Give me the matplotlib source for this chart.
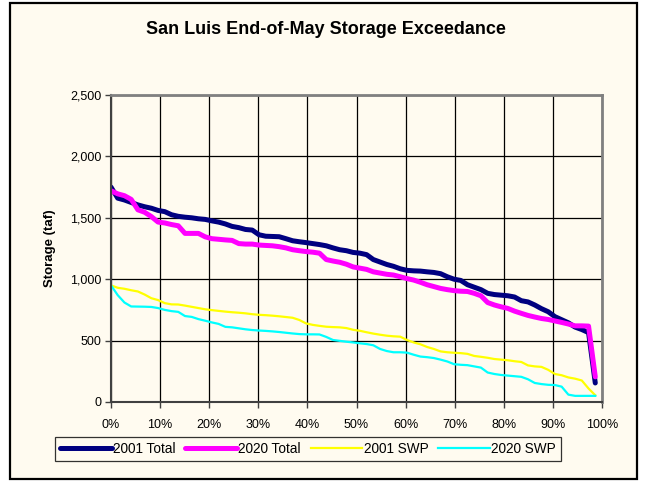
import numpy as np
import matplotlib
matplotlib.use("Agg")
import matplotlib.pyplot as plt
from matplotlib.patches import Rectangle
from matplotlib.ticker import FuncFormatter, MultipleLocator

plt.rcParams['font.family'] = ['Liberation Sans', 'DejaVu Sans']

total_2001 = [1750, 1660, 1645, 1625, 1605, 1590, 1578, 1560, 1550, 1525,
              1512, 1505, 1500, 1492, 1487, 1475, 1465, 1450, 1430, 1420,
              1405, 1400, 1362, 1350, 1348, 1346, 1330, 1313, 1305, 1298,
              1290, 1282, 1272, 1255, 1240, 1232, 1218, 1212, 1200, 1160,
              1140, 1120, 1105, 1085, 1072, 1068, 1066, 1060, 1055, 1045,
              1020, 1000, 990, 955, 935, 915, 885, 875, 870, 865,
              855, 825, 815, 790, 760, 735, 695, 670, 645, 610,
              590, 565, 155]
total_2020 = [1720, 1695, 1680, 1650, 1565, 1545, 1510, 1465, 1458, 1445,
              1435, 1373, 1373, 1373, 1345, 1330, 1325, 1320, 1316, 1290,
              1286, 1286, 1278, 1275, 1272, 1265, 1255, 1240, 1232, 1225,
              1220, 1212, 1160, 1148, 1138, 1122, 1100, 1090, 1080, 1060,
              1050, 1040, 1034, 1020, 1005, 993, 975, 955, 940, 925,
              915, 907, 902, 900, 885, 865, 810, 790, 775, 762,
              740, 722, 705, 692, 680, 672, 660, 648, 635, 620,
              620, 618, 205]
swp_2001 = [950, 930, 922, 910, 900, 875, 845, 830, 805, 795,
            794, 785, 775, 765, 755, 748, 742, 736, 731, 727,
            722, 715, 710, 707, 703, 698, 692, 686, 668, 640,
            628, 620, 613, 610, 608, 602, 588, 580, 568, 557,
            548, 540, 535, 532, 505, 485, 470, 448, 432, 412,
            405, 401, 398, 392, 375, 368, 360, 350, 345, 340,
            332, 326, 298, 290, 286, 262, 228, 218, 200, 190,
            175, 110, 55]
swp_2020 = [950, 870, 810, 778, 777, 776, 774, 765, 750, 740,
            734, 700, 693, 675, 662, 648, 636, 612, 608, 600,
            592, 586, 582, 579, 575, 570, 564, 558, 553, 551,
            551, 550, 530, 505, 498, 491, 485, 478, 472, 462,
            432, 415, 405, 405, 402, 385, 370, 365, 358, 345,
            330, 308, 303, 300, 290, 280, 240, 228, 220, 215,
            210, 205, 185, 155, 146, 140, 138, 125, 60, 50,
            50, 50, 50]

n = len(total_2001)
exceed = np.arange(n) / n

cream = '#FFFBF0'
W, H = 646, 484
fig = plt.figure(figsize=(W / 100, H / 100), dpi=100, facecolor='white')

# outer chart border, kept behind the axes
fig.patches.append(Rectangle((10 / W, 1 - 479 / H), 627 / W, 476 / H,
                             transform=fig.transFigure, facecolor=cream,
                             edgecolor='black', linewidth=1.6, zorder=-10))

ax = fig.add_axes([111 / W, 1 - 402 / H, 491 / W, 307 / H])
ax.set_facecolor(cream)

ax.plot(exceed, total_2001, color='#000080', lw=3.6, label='2001 Total',
        solid_capstyle='round', solid_joinstyle='round')
ax.plot(exceed, total_2020, color='#FF00FF', lw=3.6, label='2020 Total',
        solid_capstyle='round', solid_joinstyle='round')
ax.plot(exceed, swp_2001, color='#FFFF00', lw=1.6, label='2001 SWP')
ax.plot(exceed, swp_2020, color='#00FFFF', lw=1.6, label='2020 SWP')

ax.set_xlim(0, 1)
ax.set_ylim(0, 2500)
ax.xaxis.set_major_locator(MultipleLocator(0.1))
ax.yaxis.set_major_locator(MultipleLocator(500))
ax.xaxis.set_major_formatter(FuncFormatter(lambda v, p: '{:.0f}%'.format(v * 100)))
ax.yaxis.set_major_formatter(FuncFormatter(lambda v, p: '{:,.0f}'.format(v)))
ax.grid(True, color='black', lw=0.9)
ax.set_axisbelow(True)
ax.tick_params(labelsize=9, length=4, width=1, color='#404040', pad=8)
ax.tick_params(axis='y', pad=3)

for s in ['top', 'right']:
    ax.spines[s].set_color('#808080')
    ax.spines[s].set_linewidth(2)
for s in ['left', 'bottom']:
    ax.spines[s].set_color('#404040')
    ax.spines[s].set_linewidth(1.5)

ax.set_ylabel('Storage (taf)', fontsize=9.5, fontweight='bold', labelpad=10)
fig.text(326 / W, 1 - 30 / H, 'San Luis End-of-May Storage Exceedance',
         ha='center', va='center', fontsize=13, fontweight='bold')

leg = fig.legend(loc='center', bbox_to_anchor=(308 / W, 1 - 449 / H), ncol=4,
                 fontsize=9.8, frameon=True, fancybox=False, handlelength=3.8,
                 handletextpad=0.1, columnspacing=0.7, borderpad=0.4)
leg.get_frame().set_edgecolor('black')
leg.get_frame().set_linewidth(0.9)
leg.get_frame().set_facecolor(cream)

fig.savefig('out.png', dpi=100, facecolor='white')
